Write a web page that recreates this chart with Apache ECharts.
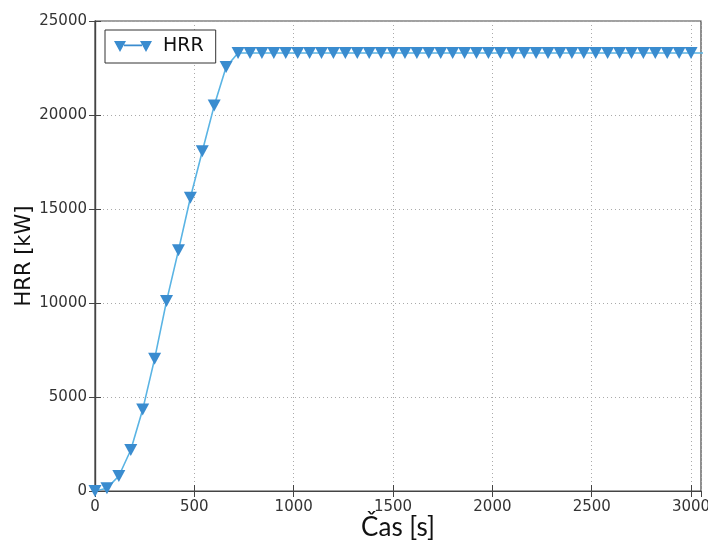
<!DOCTYPE html>
<html>
<head>
<meta charset="utf-8">
<script src="https://cdn.jsdelivr.net/npm/echarts@6/dist/echarts.min.js"></script>
<style>html,body{margin:0;padding:0;background:#fff;}#c{width:708px;height:546px;}</style>
</head>
<body>
<div id="c"></div>
<script>
const seriesName = 'HRR';
const times = [0, 60, 120, 180, 240, 300, 360, 420, 480, 540, 600, 660, 720, 780, 840, 900, 960, 1020, 1080, 1140, 1200, 1260, 1320, 1380, 1440, 1500, 1560, 1620, 1680, 1740, 1800, 1860, 1920, 1980, 2040, 2100, 2160, 2220, 2280, 2340, 2400, 2460, 2520, 2580, 2640, 2700, 2760, 2820, 2880, 2940, 3000, 3060];
const hrr = [0, 150, 800, 2180, 4330, 7030, 10100, 12800, 15600, 18070, 20500, 22550, 23300, 23300, 23300, 23300, 23300, 23300, 23300, 23300, 23300, 23300, 23300, 23300, 23300, 23300, 23300, 23300, 23300, 23300, 23300, 23300, 23300, 23300, 23300, 23300, 23300, 23300, 23300, 23300, 23300, 23300, 23300, 23300, 23300, 23300, 23300, 23300, 23300, 23300, 23300, 23300];
const xTicks = [0, 500, 1000, 1500, 2000, 2500, 3000];
const yTicks = [0, 5000, 10000, 15000, 20000, 25000];

const chart = echarts.init(document.getElementById('c'), null, {renderer: 'canvas'});
const tickFont = {fontFamily: 'DejaVu Sans', fontSize: 15, color: '#333'};
const gridLine = {show: true, lineStyle: {color: '#aaa', type: [1, 3], width: 1}};
const axisLine = {show: true, lineStyle: {color: '#444', width: 1.2}};
const xMax = 3050;
const yMax = yTicks[yTicks.length - 1];
chart.setOption({
  animation: false,
  backgroundColor: '#fff',
  grid: {left: 95, right: 7, top: 21, bottom: 55, containLabel: false, outerBoundsMode: 'none',
         show: true, borderColor: '#444', borderWidth: 1.2, backgroundColor: 'transparent'},
  legend: {
    show: true, left: 105, top: 30, orient: 'horizontal',
    data: [{name: seriesName, icon: 'path://M0,0 L12,0 L6,11 Z M26,0 L38,0 L32,11 Z M10,3.6 L28,3.6 L28,5.2 L10,5.2 Z'}],
    itemWidth: 38, itemHeight: 11, itemGap: 10,
    padding: [7, 12, 7, 9],
    borderColor: '#333', borderWidth: 1, backgroundColor: '#fff',
    textStyle: {fontFamily: 'DejaVu Sans', fontSize: 19, color: '#111', padding: [0, 0, 0, 6]}
  },
  xAxis: [{
    type: 'value', min: xTicks[0], max: xMax, interval: 500,
    name: 'Čas [s]', nameLocation: 'middle', nameGap: 24, nameMoveOverlap: false,
    nameTextStyle: {fontFamily: 'Lato', fontSize: 26, color: '#111'},
    axisLine: axisLine,
    axisTick: {show: true, inside: true, length: 6, lineStyle: {color: '#444'}},
    axisLabel: Object.assign({margin: 9, showMaxLabel: false, formatter: v => xTicks.includes(v) ? String(v) : ''}, tickFont),
    splitLine: gridLine
  }, {
    type: 'value', position: 'top', min: xTicks[0], max: xMax, interval: 500,
    axisLine: axisLine,
    axisTick: {show: true, inside: true, length: 6, lineStyle: {color: '#444'}},
    axisLabel: {show: false}, splitLine: {show: false}
  }],
  yAxis: [{
    type: 'value', min: yTicks[0], max: yMax, interval: 5000,
    name: 'HRR [kW]', nameLocation: 'middle', nameGap: 60, nameMoveOverlap: false,
    nameTextStyle: {fontFamily: 'DejaVu Sans', fontSize: 21, color: '#111'},
    axisLine: axisLine,
    axisTick: {show: true, inside: true, length: 6, lineStyle: {color: '#444'}},
    axisLabel: Object.assign({margin: 8, formatter: v => String(v)}, tickFont),
    splitLine: gridLine
  }, {
    type: 'value', position: 'right', min: yTicks[0], max: yMax, interval: 5000,
    axisLine: axisLine,
    axisTick: {show: true, inside: true, length: 6, lineStyle: {color: '#444'}},
    axisLabel: {show: false}, splitLine: {show: false}
  }],
  series: [{
    name: seriesName, type: 'line', xAxisIndex: 0, yAxisIndex: 0,
    data: times.map((t, i) => [t, hrr[i]]),
    clip: true,
    showAllSymbol: true,
    symbol: 'triangle', symbolRotate: 180, symbolSize: [13, 12],
    itemStyle: {color: '#3a8ccf'},
    lineStyle: {color: '#5ab4e4', width: 1.6}
  }]
});
</script>
</body>
</html>
